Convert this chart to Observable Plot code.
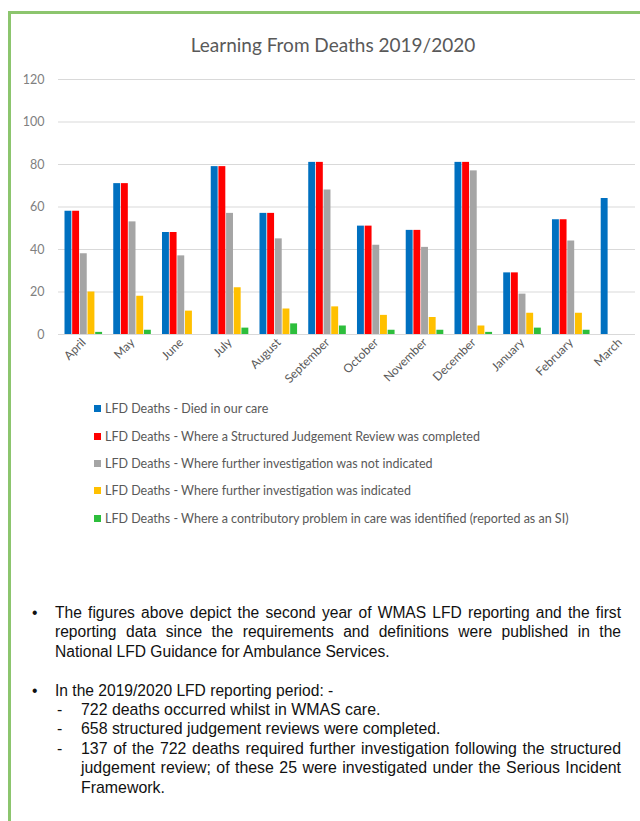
<!DOCTYPE html>
<html>
<head>
<meta charset="utf-8">
<script src="https://cdn.jsdelivr.net/npm/d3@7"></script>
<script src="https://cdn.jsdelivr.net/npm/@observablehq/plot@0.6"></script>
<style>
  body { margin: 0; background: #fff; }
  #page { position: relative; width: 640px; height: 821px; overflow: hidden; }
  #frame { position: absolute; left: 8px; top: 11px; width: 700px; height: 900px;
           border-left: 3px solid #8cc56e; border-top: 3px solid #8cc56e; }
  #title { position: absolute; left: 0; width: 666px; top: 35px; text-align: center;
           font-family: Lato, sans-serif; font-size: 19px; line-height: 19px; color: #595959; }
  #grid, #chart { position: absolute; left: 0; top: 60px; }
  #legend { position: absolute; left: 94px; top: 395px; font-family: Lato, sans-serif;
            font-size: 12.5px; color: #595959; }
  #legend .row { height: 27.4px; display: flex; align-items: center; white-space: nowrap; }
  #legend .sw { width: 7px; height: 7px; margin-right: 4px; flex: none; }
  #notes { position: absolute; left: 0; top: 603px; width: 640px;
           font-family: "Liberation Sans", Arial, sans-serif; font-size: 15.6px;
           line-height: 19.4px; color: #111; }
  .item { position: relative; margin-left: 55px; width: 566px; }
  .item .mark { position: absolute; left: -23px; top: 0; }
  .just { text-align: justify; text-align-last: left; }
  .gap { height: 19.4px; }
  .sub { position: relative; margin-left: 26px; width: 540px; font-size: 15.9px; }
  .sub .mark { position: absolute; left: -24px; top: 0; }
</style>
</head>
<body>
<div id="page">
  <div id="frame"></div>
  <div id="title"></div>
  <div id="grid"></div>
  <div id="chart"></div>
  <div id="legend"></div>
  <div id="notes"></div>
</div>
<script>
// Months of the 2019/2020 reporting year
const months = ["April", "May", "June", "July", "August", "September",
                "October", "November", "December", "January", "February", "March"];

// Series names and their fill colours
const seriesNames = [
  "LFD Deaths - Died in our care",
  "LFD Deaths - Where a Structured Judgement Review was completed",
  "LFD Deaths - Where further investigation was not indicated",
  "LFD Deaths - Where further investigation was indicated",
  "LFD Deaths - Where a contributory problem in care was identified (reported as an SI)"
];
const seriesColors = ["#0070C0", "#FF0000", "#A5A5A5", "#FFC000", "#2DBE3C"];

// Monthly counts per series (null = not yet reported)
const diedInCare      = [58, 71, 48, 79, 57, 81, 51, 49, 81, 29, 54, 64];
const sjrCompleted    = [58, 71, 48, 79, 57, 81, 51, 49, 81, 29, 54, null];
const notIndicated    = [38, 53, 37, 57, 45, 68, 42, 41, 77, 19, 44, null];
const indicated       = [20, 18, 11, 22, 12, 13,  9,  8,  4, 10, 10, null];
const reportedAsSI    = [ 1,  2,  0,  3,  5,  4,  2,  2,  1,  3,  2, null];

const yTicks = [0, 20, 40, 60, 80, 100, 120];

const titleText = "Learning From Deaths 2019/2020";

// Long-form table for the grouped bars
const seriesValues = [diedInCare, sjrCompleted, notIndicated, indicated, reportedAsSI];
const rows = [];
seriesValues.forEach((vals, s) => {
  months.forEach((m, i) => {
    if (vals[i] != null) rows.push({month: m, series: seriesNames[s], value: vals[i]});
  });
});

document.getElementById("title").textContent = titleText;

// Both layers share the vertical frame so gridlines and bars line up
const vframe = {width: 640, height: 330, marginTop: 19, marginBottom: 56};
const yScale = {domain: [0, 120], axis: null};
const baseStyle = {fontFamily: "Lato, sans-serif", fontSize: "12px", color: "#595959", background: "transparent"};

// Background layer: continuous horizontal gridlines and y tick labels
const grid = Plot.plot({
  ...vframe,
  marginLeft: 58,
  marginRight: 5,
  style: {...baseStyle, fontSize: "12.5px"},
  y: yScale,
  marks: [
    Plot.ruleY(yTicks, {y: d => d, stroke: "#d9d9d9", strokeWidth: 1}),
    Plot.text(yTicks, {y: d => d, text: d => String(d), frameAnchor: "left",
                       textAnchor: "end", dx: -14, fill: "#808080"})
  ]
});
document.getElementById("grid").appendChild(grid);

// Foreground layer: one group of bars per month
const chart = Plot.plot({
  ...vframe,
  marginLeft: 64.5,
  marginRight: 1.7,
  style: baseStyle,
  fx: {domain: months, paddingInner: 0.229, paddingOuter: 0, round: false, label: null,
       tickRotate: -45, tickSize: 0, tickPadding: 6},
  x: {domain: seriesNames, paddingInner: 0.1, paddingOuter: 0, round: false, axis: null},
  y: yScale,
  color: {domain: seriesNames, range: seriesColors},
  marks: [
    Plot.barY(rows, {fx: "month", x: "series", y: "value", fill: "series"})
  ]
});
document.getElementById("chart").appendChild(chart);

// Legend
const legend = document.getElementById("legend");
seriesNames.forEach((name, i) => {
  const row = document.createElement("div");
  row.className = "row";
  const sw = document.createElement("span");
  sw.className = "sw";
  sw.style.background = seriesColors[i];
  const label = document.createElement("span");
  label.textContent = name;
  row.appendChild(sw);
  row.appendChild(label);
  legend.appendChild(row);
});

// Commentary below the chart
document.getElementById("notes").innerHTML = `
  <div class="item just"><span class="mark">•</span>The figures above depict the second year of WMAS LFD reporting and the first reporting data since the requirements and definitions were published in the National LFD Guidance for Ambulance Services.</div>
  <div class="gap"></div>
  <div class="item"><span class="mark">•</span>In the 2019/2020 LFD reporting period: -
    <div class="sub"><span class="mark">-</span>722 deaths occurred whilst in WMAS care.</div>
    <div class="sub"><span class="mark">-</span>658 structured judgement reviews were completed.</div>
    <div class="sub just"><span class="mark">-</span>137 of the 722 deaths required further investigation following the structured judgement review; of these 25 were investigated under the Serious Incident Framework.</div>
  </div>
`;
</script>
</body>
</html>
